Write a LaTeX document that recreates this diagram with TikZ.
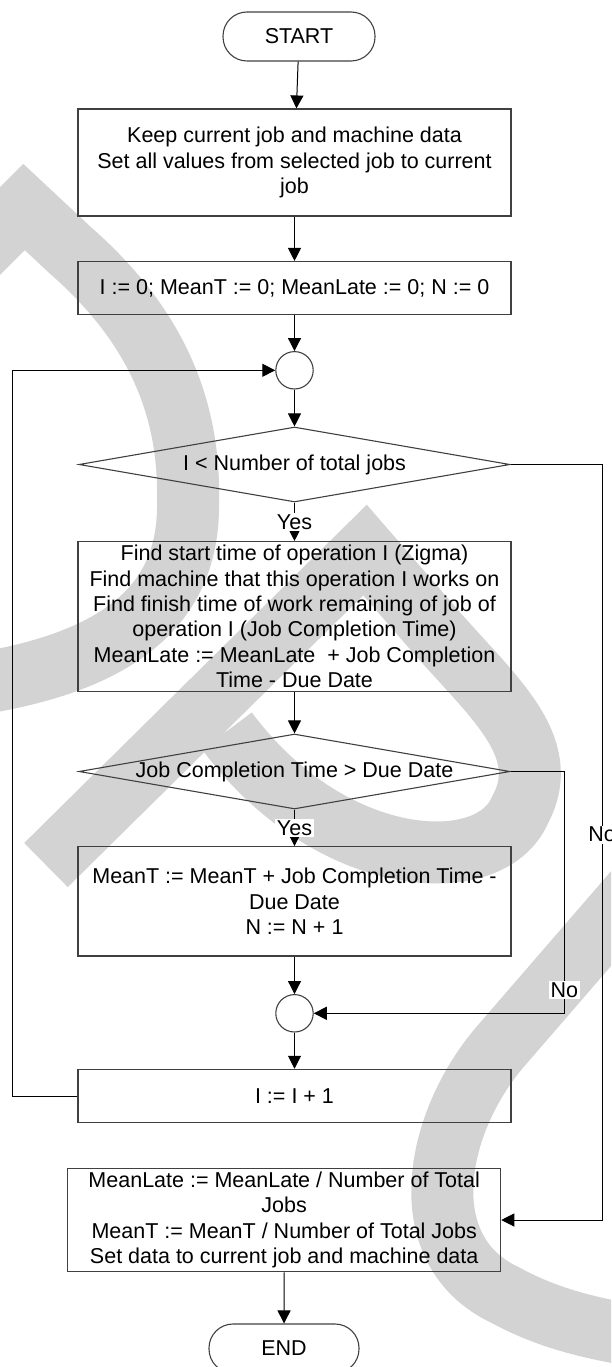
\documentclass[tikz,border=0pt]{standalone}
\usepackage{fontspec}
\setmainfont{Liberation Sans}
\usepackage{tikz}
\usetikzlibrary{shapes.geometric}
\usetikzlibrary{arrows.meta}
\definecolor{wmgray}{RGB}{211,211,211}

\begin{document}
\begin{tikzpicture}[x=1pt, y=-1pt, >={Triangle[length=13pt,width=13pt]},
  font=\fontsize{21.5}{25.3}\selectfont,
  block/.style={draw=black!75, line width=1.1pt, minimum width=433pt, inner sep=0pt, align=center},
  terminal/.style={draw=black!75, line width=1.1pt, rounded corners=24pt, minimum width=152pt, minimum height=49pt, inner sep=0pt},
  decision/.style={diamond, draw=black!75, line width=1.1pt, minimum width=431pt, minimum height=75pt, inner sep=0pt},
  junction/.style={circle, draw=black!75, line width=1.1pt, minimum size=37.4pt, inner sep=0pt},
  lbl/.style={fill=white, inner sep=1.5pt},
  flow/.style={->, line width=1pt},
  wm/.style={draw=wmgray, line width=62pt, line cap=butt, line join=miter}]
  \useasboundingbox (0,0) rectangle (611,1367);
  \clip (0,0) rectangle (611,1367);

  % watermark in the background
  \draw[wm] (-40,271) -- (24,207) -- (70,250) .. controls (150,320) and (190,400) .. (188,500)
            .. controls (190,590) and (140,660) .. (-30,685);
  \draw[wm] (46,865) -- (365,550) -- (430,625) .. controls (490,695) and (555,745) .. (520,810)
            .. controls (490,880) and (330,870) .. (227,731);
  \draw[wm] (660,862) -- (500,1047) .. controls (435,1123) and (410,1250) .. (505,1295)
            .. controls (555,1322) and (600,1330) .. (660,1340);

  % flow chart
  \node[terminal] (start) at (299,36.5) {START};
  \node[block, minimum height=107pt] (keep) at (294.5,162.5)
    {Keep current job and machine data\\ Set all values from selected job to current\\ job};
  \node[block, minimum height=53pt] (init) at (294.5,288)
    {I := 0; MeanT := 0; MeanLate := 0; N := 0};
  \node[junction] (j1) at (294.5,370.3) {};
  \node[decision] (dec1) at (294.5,464.5) {\makebox[0pt]{I < Number of total jobs}};
  \node[block, minimum height=150pt] (find) at (294.5,616.5)
    {Find start time of operation I (Zigma)\\ Find machine that this operation I works on\\
     Find finish time of work remaining of job of\\ operation I (Job Completion Time)\\
     MeanLate := MeanLate~ + Job Completion\\ Time - Due Date};
  \node[decision] (dec2) at (294.5,771.5) {\makebox[0pt]{Job Completion Time > Due Date}};
  \node[block, minimum height=109.3pt] (upd) at (294.5,901.3)
    {MeanT := MeanT + Job Completion Time -\\ Due Date\\ N := N + 1};
  \node[junction] (j2) at (294.5,1013.3) {};
  \node[block, minimum height=53.4pt] (inc) at (294.5,1096) {I := I + 1};
  \node[block, minimum height=103.4pt] (final) at (284.2,1220)
    {MeanLate := MeanLate / Number of Total\\ Jobs\\ MeanT := MeanT / Number of Total Jobs\\
     Set data to current job and machine data};
  \node[terminal, minimum width=150pt] (end) at (284,1348.5) {END};

  \coordinate (loopb) at (12,1096);
  \coordinate (r1) at (602,464.5);
  \coordinate (r2) at (602,1220);
  \coordinate (s1) at (564.3,771.5);
  \coordinate (s2) at (564.3,1013.3);

  \draw[flow] (start) -- (keep);
  \draw[flow] (keep) -- (init);
  \draw[flow] (init) -- (j1);
  \draw[flow] (j1) -- (dec1);
  \draw[flow] (dec1) -- node[lbl] {Yes} (find);
  \draw[flow] (find) -- (dec2);
  \draw[flow] (dec2) -- node[lbl] {Yes} (upd);
  \draw[flow] (upd) -- (j2);
  \draw[flow] (j2) -- (inc);
  \draw[flow] (inc) -- (loopb) |- (j1);
  \draw[flow] (dec1) -- (r1) -- node[lbl, pos=0.49] {No} (r2) -- (final);
  \draw[flow] (dec2) -- (s1) -- node[lbl, pos=0.904] {No} (s2) -- (j2);
  \draw[flow] (final) -- (end);
\end{tikzpicture}
\end{document}
